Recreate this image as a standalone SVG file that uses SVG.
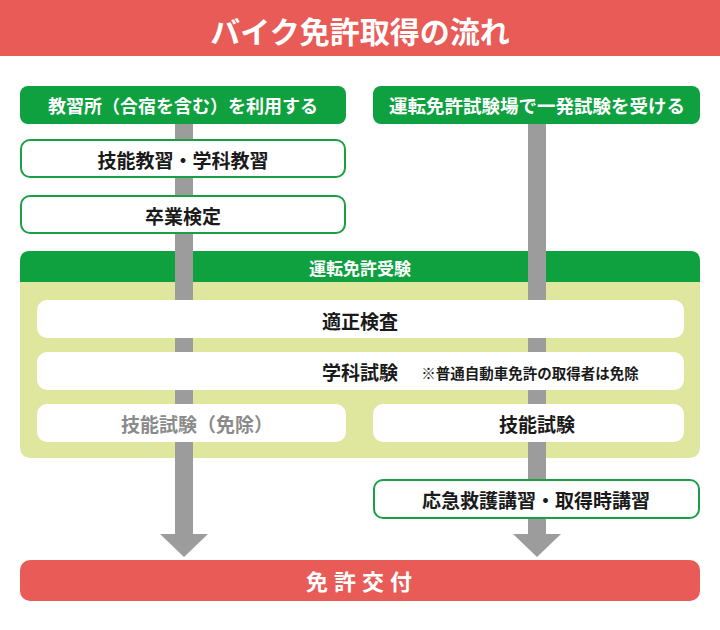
<svg xmlns="http://www.w3.org/2000/svg" width="720" height="630" viewBox="0 0 720 630">
<style>
text{font-family:"Noto Sans CJK JP","Noto Sans",sans-serif;font-weight:bold;text-anchor:middle;dominant-baseline:central}
.hdr{fill:#0fa040}
.wt{fill:#fff}
.ob{fill:#fff;stroke:#1a9f45;stroke-width:2}
.wb{fill:#fff}
.bk{fill:#1a1a1a;font-size:19px}
.bar{fill:#9c9c9c}
</style>
<rect width="720" height="630" fill="#fff"/>
<g id="title">
<rect x="0" y="0" width="720" height="56" fill="#e85b56"/>
<text x="360" y="30" class="wt" style="font-size:30px">バイク免許取得の流れ</text>
</g>
<g id="exam">
<rect x="20" y="251" width="680" height="207" rx="10" fill="#dfe69e"/>
<path d="M20,282 V261 Q20,251 30,251 H690 Q700,251 700,261 V282 Z" fill="#0fa040"/>
<text x="360" y="267" class="wt" style="font-size:17px">運転免許受験</text>
</g>
<g id="connectors">
<rect class="bar" x="175" y="118" width="18" height="418"/>
<polygon class="bar" points="160,534 208,534 184,557"/>
<rect class="bar" x="528" y="118" width="18" height="418"/>
<polygon class="bar" points="513,534 561,534 537,557"/>
</g>
<g id="school">
<rect class="hdr" x="20" y="86" width="326" height="38" rx="8"/>
<text x="183" y="105" class="wt" style="font-size:18px">教習所（合宿を含む）を利用する</text>
</g>
<g id="center">
<rect class="hdr" x="373" y="86" width="327" height="38" rx="8"/>
<text x="537" y="105" class="wt" style="font-size:18.5px">運転免許試験場で一発試験を受ける</text>
</g>
<g id="lessons">
<rect class="ob" x="21" y="140" width="324" height="37" rx="9"/>
<text x="183" y="159" class="bk">技能教習・学科教習</text>
</g>
<g id="graduation">
<rect class="ob" x="21" y="196" width="324" height="37" rx="9"/>
<text x="183" y="215" class="bk">卒業検定</text>
</g>
<g id="aptitude">
<rect class="wb" x="37" y="300" width="647" height="38" rx="10"/>
<text x="360" y="320" class="bk">適正検査</text>
</g>
<g id="written">
<rect class="wb" x="37" y="352" width="647" height="38" rx="10"/>
<text x="360" y="371" class="bk">学科試験</text>
<text x="530" y="372" style="font-size:14.5px;fill:#1a1a1a">※普通自動車免許の取得者は免除</text>
</g>
<g id="skill-exempt">
<rect class="wb" x="37" y="404" width="309" height="38" rx="10"/>
<text x="197" y="423" style="font-size:19px;fill:#8a8a8a">技能試験（免除）</text>
</g>
<g id="skill">
<rect class="wb" x="373" y="404" width="311" height="38" rx="10"/>
<text x="537" y="423" class="bk">技能試験</text>
</g>
<g id="lecture">
<rect class="ob" x="374" y="480" width="325" height="38" rx="9"/>
<text x="536" y="499" class="bk">応急救護講習・取得時講習</text>
</g>
<g id="issue">
<rect x="20" y="560" width="680" height="41" rx="10" fill="#e85b56"/>
<text x="362" y="580" class="wt" style="font-size:22px;letter-spacing:6px">免許交付</text>
</g>
</svg>
